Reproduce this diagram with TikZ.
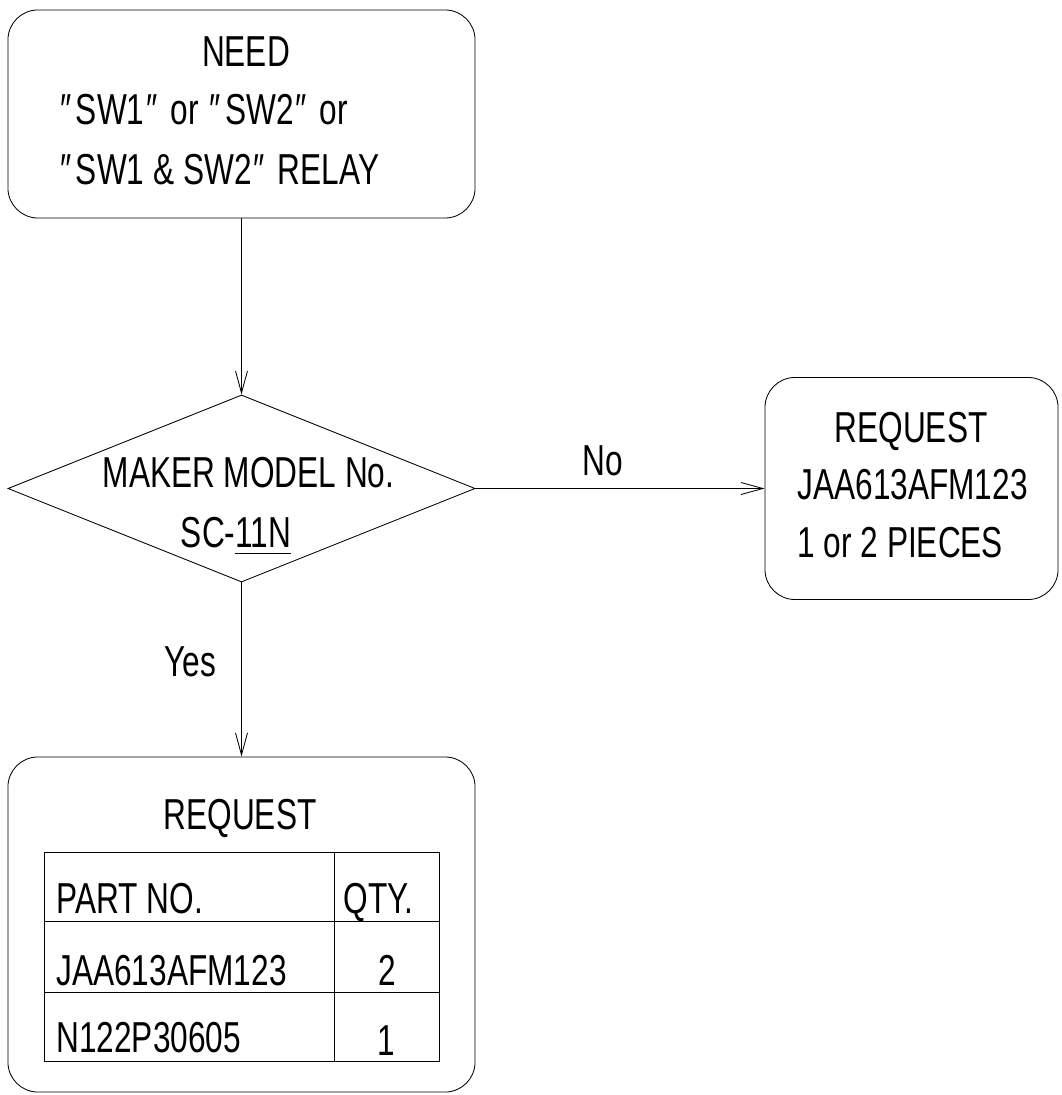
\documentclass[tikz,border=0pt]{standalone}
\usepackage{fontspec}
\setmainfont{Liberation Sans}[FakeStretch=0.73]
\usetikzlibrary{arrows.meta,shapes.geometric}

\newcommand{\ulnum}[1]{\vtop{\hbox{#1}\kern4pt\hrule height 0.7pt}}
\newcommand{\dq}{\kern1.5pt″\kern3pt}

\begin{document}
\begin{tikzpicture}[x=0.025cm,y=-0.025cm,>={Straight Barb[length=5.5mm,width=3mm]},line width=0.6pt]
  \tikzstyle{box}=[draw,rounded corners=0.75cm,minimum width=11.675cm,inner sep=0pt]
  \tikzstyle{lbl}=[inner sep=0pt,font=\fontsize{30.8}{36}\selectfont]
  \useasboundingbox (0,0) rectangle (1061,1095);

  % boxes and decision
  \node[box,minimum height=5.2cm] (need) at (241.5,114) {};
  \node[draw,diamond,minimum width=11.675cm,minimum height=4.675cm,inner sep=0pt] (maker) at (241.5,488.5) {};
  \node[box,minimum width=7.325cm,minimum height=5.55cm] (reqno) at (911.5,488.5) {};
  \node[box,minimum height=8.375cm] (reqyes) at (241.5,924.5) {};

  % texts
  \node[lbl,anchor=base] (needa) at (246,67) {NEED};
  \node[lbl,anchor=base west] (needb) at (58,125) {\dq SW1\dq{} or \dq SW2\dq{} or};
  \node[lbl,anchor=base west] (needc) at (58,185) {\dq SW1 \& SW2\dq{} RELAY};
  \node[lbl,anchor=base] (makera) at (248.5,487) {MAKER MODEL No.};
  \node[lbl,anchor=base] (makerb) at (236,547) {SC-\ulnum{11N}};
  \node[lbl,anchor=base] (noa) at (911,442) {REQUEST};
  \node[lbl,anchor=base west] (nob) at (797,499) {JAA613AFM123};
  \node[lbl,anchor=base west] (noc) at (797,557) {1 or 2 PIECES};
  \node[lbl,anchor=base] (yesa) at (240,829) {REQUEST};

  % parts table
  \draw (44,852) rectangle (439,1061);
  \draw (44,921) -- (439,921);
  \draw (44,992) -- (439,992);
  \draw (334,852) -- (334,1061);
  \node[lbl,anchor=base west] (parthd) at (56,913) {PART NO.};
  \node[lbl,anchor=base west] (qtyhd) at (343,913) {QTY.};
  \node[lbl,anchor=base west] (parta) at (56,985) {JAA613AFM123};
  \node[lbl,anchor=base] (qtya) at (387,985) {2};
  \node[lbl,anchor=base west] (partb) at (56,1052) {N122P30605};
  \node[lbl,anchor=base] (qtyb) at (386,1055) {1};

  % flow
  \draw[->] (need) -- (maker);
  \draw[->] (maker) -- (reqno);
  \draw[->] (maker) -- (reqyes);
  \node[lbl,anchor=base] (nolbl) at (603,475) {No};
  \node[lbl,anchor=base] (yeslbl) at (190,676) {Yes};
\end{tikzpicture}
\end{document}
